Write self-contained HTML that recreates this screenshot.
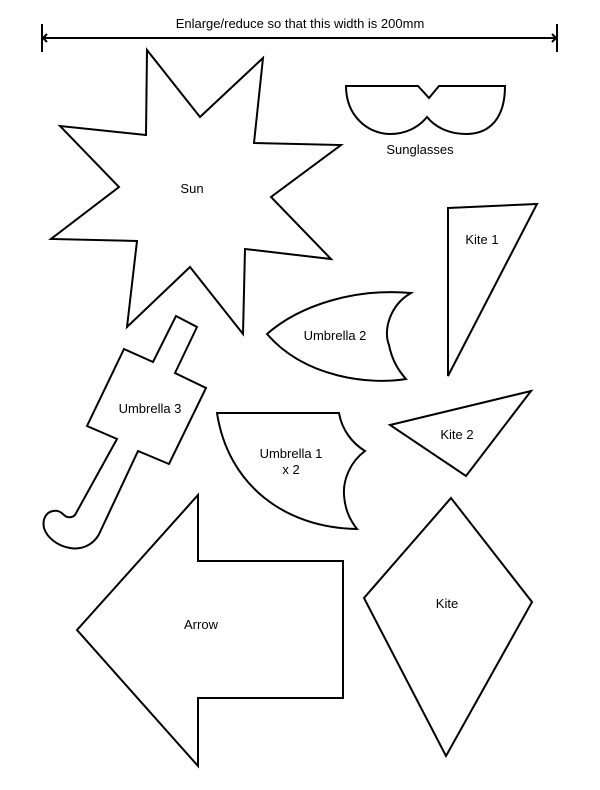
<!DOCTYPE html>
<html><head><style>
html,body{margin:0;padding:0;background:#fff;}
svg{display:block;}
text{font-family:"Liberation Sans",sans-serif;font-size:13px;fill:#000;}
</style></head><body>
<svg width="600" height="790" viewBox="0 0 600 790" xmlns="http://www.w3.org/2000/svg">
<g fill="none" stroke="#000" stroke-width="2" stroke-linejoin="miter">
<!-- width bar -->
<line x1="42" y1="24" x2="42" y2="52"/>
<line x1="557" y1="24" x2="557" y2="52"/>
<line x1="42" y1="38" x2="557" y2="38"/>
<polyline points="47,34 43,38 47,42"/>
<polyline points="552,34 556,38 552,42"/>
<!-- Sun -->
<polygon points="147,50 200,117 263,58 254,143 341,145 271,197 331,259 245,249 243,334 190,267 127,327 137,241 51,239 119,187 60,126 146,135"/>
<!-- Sunglasses -->
<path d="M346,86 L418,86 L429,98 L439,86 L505,86 C505,118 490,134 466,134 C450,134 436,128 427,117 C418,128 405,134 390,134 C368,134 346,116 346,86 Z"/>
<!-- Kite 1 -->
<polygon points="448,208 537,204 448,376"/>
<!-- Kite 2 -->
<polygon points="390,425 531,391 466,476"/>
<!-- Umbrella 2 -->
<path d="M267,334 C300,305 355,288 411,293 C390,305 383,330 389,345 C392,360 398,370 406,379 C370,385 305,378 267,334 Z"/>
<!-- Umbrella 3 -->
<path d="M176,316 L197,327 L175,373 L206,388 L169,464 L138,451 L101,530 C95,545 82,550 70,548 C58,546 47,538 44,528 C42,518 47,512 53,511 C58,510 61,512 64,515 C67,518 72,518 75,515 L117,439 L87,426 L124,349 L153,362 Z"/>
<!-- Umbrella 1 -->
<path d="M217,413 L339,413 C342,430 352,443 365,451 C350,462 343,480 344,495 C345,510 350,520 357,529 C285,528 228,485 217,413 Z"/>
<!-- Arrow -->
<polygon points="198,495 198,561 343,561 343,698 198,698 198,766 77,630"/>
<!-- Kite -->
<polygon points="451,498 532,602 446,756 364,598"/>
</g>
<text x="300" y="28" text-anchor="middle" font-size="12">Enlarge/reduce so that this width is 200mm</text>
<text x="420" y="154" text-anchor="middle">Sunglasses</text>
<text x="192" y="193" text-anchor="middle">Sun</text>
<text x="482" y="244" text-anchor="middle">Kite 1</text>
<text x="335" y="340" text-anchor="middle">Umbrella 2</text>
<text x="150" y="413" text-anchor="middle">Umbrella 3</text>
<text x="457" y="439" text-anchor="middle">Kite 2</text>
<text x="291" y="458" text-anchor="middle">Umbrella 1</text>
<text x="291" y="474" text-anchor="middle">x 2</text>
<text x="201" y="629" text-anchor="middle">Arrow</text>
<text x="447" y="608" text-anchor="middle">Kite</text>
</svg>
</body></html>
